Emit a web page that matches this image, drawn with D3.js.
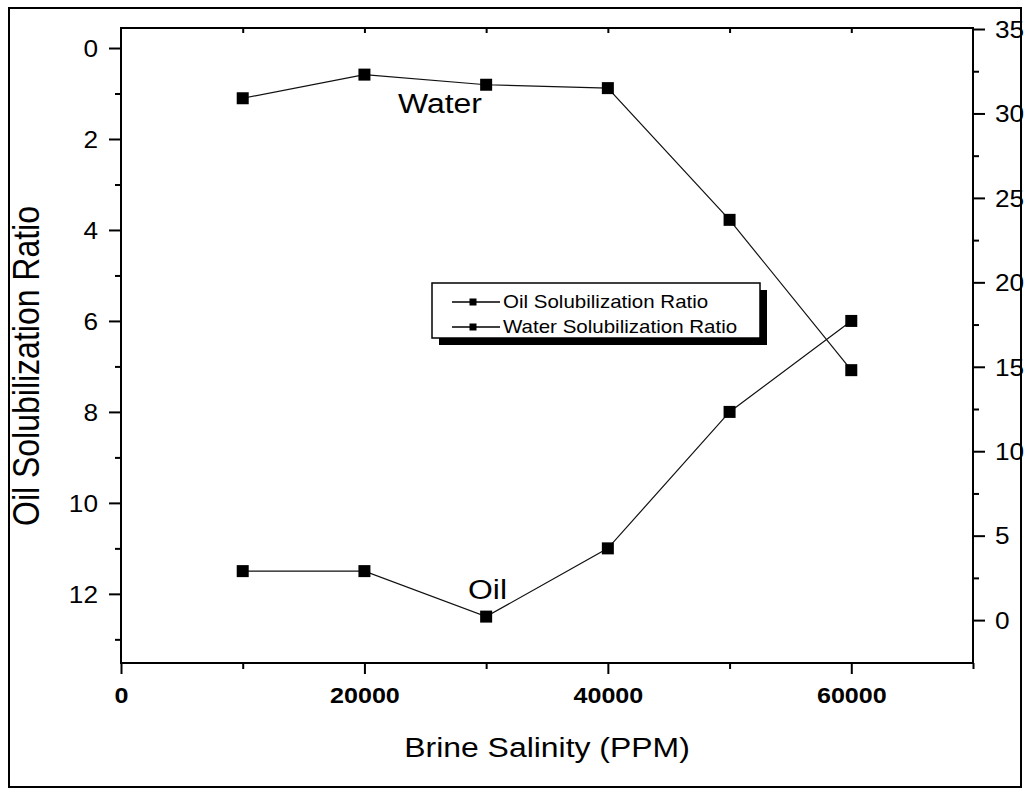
<!DOCTYPE html>
<html>
<head>
<meta charset="utf-8">
<script src="https://cdn.jsdelivr.net/npm/d3@7"></script>
<style>
  html, body { margin: 0; padding: 0; background: #fff; }
  svg { display: block; }
  text { font-family: "Liberation Sans", Arial, Helvetica, sans-serif; fill: #000; }
</style>
</head>
<body>
<svg id="chart" width="1030" height="794"></svg>
<script>
// Brine salinity (PPM) for each measurement
const salinity = [10000, 20000, 30000, 40000, 50000, 60000];
// Oil solubilization ratio (left, reversed axis)
const oilRatio = [11.5, 11.5, 12.5, 11.0, 8.0, 6.0];
// Water solubilization ratio (right axis)
const waterRatio = [30.9, 32.3, 31.7, 31.5, 23.7, 14.8];

const xTicks = [0, 20000, 40000, 60000];
const xMinorTicks = [10000, 30000, 50000, 70000];
const leftTicks = [0, 2, 4, 6, 8, 10, 12];
const leftMinorTicks = [1, 3, 5, 7, 9, 11, 13];
const rightTicks = [0, 5, 10, 15, 20, 25, 30, 35];
const rightMinorTicks = [2.5, 7.5, 12.5, 17.5, 22.5, 27.5, 32.5];

const seriesNames = ["Oil Solubilization Ratio", "Water Solubilization Ratio"];

// Text is drawn slightly wide, like the original plotting software output
const SX = 1.14;

const svg = d3.select("#chart");

const plot = { left: 121, right: 973, top: 28, bottom: 663 };

const x = d3.scaleLinear().domain([0, 70000]).range([plot.left, plot.right]);
const yLeft = d3.scaleLinear().domain([-0.44, 13.52]).range([plot.top, plot.bottom]);
const yRight = d3.scaleLinear().domain([-2.54, 35.06]).range([plot.bottom, plot.top]);

// Outer page border
svg.append("rect")
  .attr("x", 9).attr("y", 8).attr("width", 1012).attr("height", 779)
  .attr("fill", "none").attr("stroke", "#000").attr("stroke-width", 2);

function styleAxis(g) {
  g.select(".domain").remove();
  g.selectAll(".tick line").attr("stroke", "#000").attr("stroke-width", 2);
}

// Left axis (reversed)
const gLeftMinor = svg.append("g").attr("transform", `translate(${plot.left},0)`)
  .call(d3.axisLeft(yLeft).tickValues(leftMinorTicks).tickSize(6).tickFormat(""));
styleAxis(gLeftMinor);
const gLeft = svg.append("g").attr("transform", `translate(${plot.left},0)`)
  .call(d3.axisLeft(yLeft).tickValues(leftTicks).tickSize(12).tickFormat(d3.format("d")));
styleAxis(gLeft);
gLeft.selectAll(".tick text")
  .attr("x", null).attr("dy", "0.36em")
  .attr("text-anchor", "end")
  .attr("transform", `translate(-23,0) scale(${SX},1)`)
  .style("font-size", "23px");

// Right axis
const gRightMinor = svg.append("g").attr("transform", `translate(${plot.right},0)`)
  .call(d3.axisRight(yRight).tickValues(rightMinorTicks).tickSize(6).tickFormat(""));
styleAxis(gRightMinor);
const gRight = svg.append("g").attr("transform", `translate(${plot.right},0)`)
  .call(d3.axisRight(yRight).tickValues(rightTicks).tickSize(12).tickFormat(d3.format("d")));
styleAxis(gRight);
gRight.selectAll(".tick text")
  .attr("x", null).attr("dy", "0.36em")
  .attr("text-anchor", "start")
  .attr("transform", `translate(22,0) scale(${SX},1)`)
  .style("font-size", "23px");

// Bottom axis
const gBottomMinor = svg.append("g").attr("transform", `translate(0,${plot.bottom})`)
  .call(d3.axisBottom(x).tickValues(xMinorTicks).tickSize(6).tickFormat(""));
styleAxis(gBottomMinor);
const gBottom = svg.append("g").attr("transform", `translate(0,${plot.bottom})`)
  .call(d3.axisBottom(x).tickValues(xTicks).tickSize(11).tickFormat(d3.format("d")));
styleAxis(gBottom);
gBottom.selectAll(".tick text")
  .attr("y", null).attr("dy", null)
  .attr("text-anchor", "middle")
  .attr("transform", `translate(0,40) scale(${SX},1)`)
  .style("font-size", "22px")
  .style("font-weight", "bold");

// Top axis: short inward ticks
const gTop = svg.append("g").attr("transform", `translate(0,${plot.top})`)
  .call(d3.axisBottom(x).tickValues(xMinorTicks.concat(xTicks).filter(d => d > 0 && d < 70000)).tickSize(5).tickFormat(""));
styleAxis(gTop);

// Plot frame
svg.append("rect")
  .attr("x", plot.left).attr("y", plot.top)
  .attr("width", plot.right - plot.left).attr("height", plot.bottom - plot.top)
  .attr("fill", "none").attr("stroke", "#000").attr("stroke-width", 2);

// Axis titles
svg.append("text")
  .attr("transform", `translate(547,757) scale(${SX},1)`)
  .attr("text-anchor", "middle")
  .style("font-size", "28px")
  .text("Brine Salinity (PPM)");

svg.append("text")
  .attr("transform", `translate(39,366) scale(${SX},1) rotate(-90)`)
  .attr("text-anchor", "middle")
  .style("font-size", "32px")
  .text("Oil Solubilization Ratio");

// Series
const oilPts = salinity.map((s, i) => [x(s), yLeft(oilRatio[i])]);
const waterPts = salinity.map((s, i) => [x(s), yRight(waterRatio[i])]);
const line = d3.line();

[oilPts, waterPts].forEach(pts => {
  svg.append("path")
    .attr("d", line(pts))
    .attr("fill", "none")
    .attr("stroke", "#111")
    .attr("stroke-width", 1.2);
  svg.append("g").selectAll("rect")
    .data(pts).join("rect")
    .attr("x", d => d[0] - 6).attr("y", d => d[1] - 6)
    .attr("width", 12).attr("height", 12)
    .attr("fill", "#000");
});

// In-plot labels
svg.append("text")
  .attr("transform", `translate(398,113) scale(${SX},1)`)
  .style("font-size", "28px")
  .text("Water");
svg.append("text")
  .attr("transform", `translate(468,599) scale(${SX},1)`)
  .style("font-size", "28px")
  .text("Oil");

// Legend with drop shadow
const legend = { x: 432, y: 283, w: 328, h: 55 };
svg.append("rect")
  .attr("x", legend.x + 7).attr("y", legend.y + 7)
  .attr("width", legend.w).attr("height", legend.h)
  .attr("fill", "#000");
svg.append("rect")
  .attr("x", legend.x).attr("y", legend.y)
  .attr("width", legend.w).attr("height", legend.h)
  .attr("fill", "#fff").attr("stroke", "#000").attr("stroke-width", 1.5);

const legendRows = svg.append("g").selectAll("g")
  .data(seriesNames).join("g")
  .attr("transform", (d, i) => `translate(0,${302 + i * 25})`);
legendRows.append("line")
  .attr("x1", 452).attr("x2", 500).attr("y1", 0).attr("y2", 0)
  .attr("stroke", "#000").attr("stroke-width", 1.5);
legendRows.append("rect")
  .attr("x", 469.5).attr("y", -3.5).attr("width", 7).attr("height", 7)
  .attr("fill", "#000");
legendRows.append("text")
  .attr("transform", `translate(503,0) scale(${SX},1)`)
  .attr("dy", "0.36em")
  .style("font-size", "18px")
  .text(d => d);
</script>
</body>
</html>
